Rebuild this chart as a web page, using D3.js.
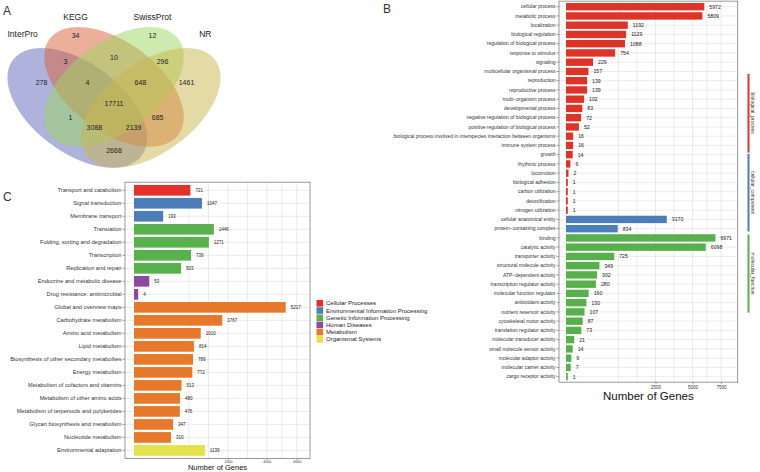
<!DOCTYPE html>
<html>
<head>
<meta charset="utf-8">
<script src="https://cdn.jsdelivr.net/npm/d3@7"></script>
<style>
  body { margin: 0; background: #fff; }
  svg { display: block; }
  text { font-family: "Liberation Sans", Arial, sans-serif; }
</style>
</head>
<body>
<svg width="760" height="472"></svg>
<script>
// ---- panel A : venn ----
var vennSets = ["InterPro", "KEGG", "SwissProt", "NR"];
var vennColors = ["#5f65b9", "#d9603a", "#9bd75f", "#c9b54b"];
var vennCounts = [278, 34, 12, 1461, 3, 10, 296, 4, 648, 17711, 1, 685, 3088, 2139, 2668];

// ---- panel B : GO ----
var goTerms = ["cellular process", "metabolic process", "localization", "biological regulation",
  "regulation of biological process", "response to stimulus", "signaling",
  "multicellular organismal process", "reproduction", "reproductive process",
  "multi\u2212organism process", "developmental process", "negative regulation of biological process",
  "positive regulation of biological process",
  "biological process involved in interspecies interaction between organisms",
  "immune system process", "growth", "rhythmic process", "locomotion", "biological adhesion",
  "carbon utilization", "detoxification", "nitrogen utilization",
  "cellular anatomical entity", "protein\u2212containing complex",
  "binding", "catalytic activity", "transporter activity", "structural molecule activity",
  "ATP\u2212dependent activity", "transcription regulator activity", "molecular function regulator",
  "antioxidant activity", "nutrient reservoir activity", "cytoskeletal motor activity",
  "translation regulator activity", "molecular transducer activity",
  "small molecule sensor activity", "molecular adaptor activity", "molecular carrier activity",
  "cargo receptor activity"];
var goCounts = [5972, 5809, 1192, 1129, 1088, 754, 229, 157, 139, 139, 102, 83, 72, 52, 16, 16, 14,
  6, 2, 1, 1, 1, 1, 3170, 834, 6971, 6098, 725, 349, 302, 280, 160, 130, 107, 87, 73, 21, 14, 9, 7, 1];
var goGroups = ["biological_process", "cellular_component", "molecular_function"];
var goGroupSize = [23, 2, 16];
var goColors = ["#dd3328", "#4a7dba", "#58b04c"];
var goTicks = [2500, 5000, 7500];

// ---- panel C : KEGG ----
var keggPaths = ["Transport and catabolism", "Signal transduction", "Membrane transport",
  "Translation", "Folding, sorting and degradation", "Transcription", "Replication and repair",
  "Endocrine and metabolic disease", "Drug resistance: antimicrobial",
  "Global and overview maps", "Carbohydrate metabolism", "Amino acid metabolism", "Lipid metabolism",
  "Biosynthesis of other secondary metabolites", "Energy metabolism",
  "Metabolism of cofactors and vitamins", "Metabolism of other amino acids",
  "Metabolism of terpenoids and polyketides", "Glycan biosynthesis and metabolism",
  "Nucleotide metabolism", "Environmental adaptation"];
var keggCounts = [721, 1047, 193, 1446, 1271, 739, 503, 53, 4, 5217, 1767, 1010, 814, 789, 772,
  513, 480, 476, 347, 310, 1139];
var keggClass = [0, 1, 1, 2, 2, 2, 2, 3, 3, 4, 4, 4, 4, 4, 4, 4, 4, 4, 4, 4, 5];
var keggClasses = ["Cellular Processes", "Environmental Information Processing",
  "Genetic Information Processing", "Human Diseases", "Metabolism", "Organismal Systems"];
var keggColors = ["#e3302b", "#4b7db8", "#58b14d", "#8d48a0", "#e6792b", "#e3e24a"];
var keggTicks = [2000, 4000, 6000];

var svg = d3.select("svg");

// panel letters
svg.append("text").attr("x", 3).attr("y", 15).attr("font-size", 12).attr("fill", "#333").text("A");
svg.append("text").attr("x", 383).attr("y", 13).attr("font-size", 12).attr("fill", "#333").text("B");
svg.append("text").attr("x", 3).attr("y", 201).attr("font-size", 12).attr("fill", "#333").text("C");

// ================= A =================
var vx = d3.scaleLinear().domain([0, 1]).range([-8.5, 236.5]);
var vy = d3.scaleLinear().domain([0, 1]).range([206.6, -3.4]);
var ellipses = [
  {cx: 0.35, cy: 0.47, rot: 45},
  {cx: 0.5, cy: 0.57, rot: 45},
  {cx: 0.5, cy: 0.57, rot: -45},
  {cx: 0.65, cy: 0.47, rot: -45}
];
var venn = svg.append("g");
venn.selectAll("ellipse").data(ellipses).enter().append("ellipse")
  .attr("rx", 0.35).attr("ry", 0.2)
  .attr("transform", function (d) {
    return "translate(" + vx(d.cx) + "," + vy(d.cy) + ") scale(245,210) rotate(" + d.rot + ")";
  })
  .attr("fill", function (d, i) { return vennColors[i]; })
  .attr("fill-opacity", 0.5);

// region label spots (unit square, VennDiagram style)
var vennSpots = [[0.204, 0.593], [0.343, 0.817], [0.657, 0.817], [0.796, 0.593],
  [0.302, 0.693], [0.5, 0.712], [0.698, 0.693], [0.392, 0.593], [0.608, 0.593],
  [0.5, 0.493], [0.322, 0.426], [0.678, 0.426], [0.42, 0.379], [0.58, 0.379], [0.5, 0.269]];
venn.selectAll("text.cnt").data(vennCounts).enter().append("text")
  .attr("class", "cnt")
  .attr("x", function (d, i) { return vx(vennSpots[i][0]); })
  .attr("y", function (d, i) { return vy(vennSpots[i][1]); })
  .attr("text-anchor", "middle").attr("dominant-baseline", "central")
  .attr("font-family", "DejaVu Sans").attr("font-size", 7).attr("fill", "#222")
  .text(function (d) { return d; });
var setSpots = [[0.127, 0.822], [0.343, 0.903], [0.657, 0.903], [0.873, 0.822]];
venn.selectAll("text.set").data(vennSets).enter().append("text")
  .attr("class", "set")
  .attr("x", function (d, i) { return vx(setSpots[i][0]); })
  .attr("y", function (d, i) { return vy(setSpots[i][1]); })
  .attr("text-anchor", "middle").attr("dominant-baseline", "central")
  .attr("font-family", "DejaVu Sans").attr("font-size", 8.5).attr("fill", "#222")
  .text(function (d) { return d; });

// ggplot style grid breaks for sqrt axis
function sqrtGrid(majors, scale, lo, hi) {
  var b = majors.map(Math.sqrt), bd = b[1] - b[0];
  if (scale.invert(lo) < majors[0]) b.unshift(b[0] - bd);
  if (scale.invert(hi) > majors[majors.length - 1]) b.push(b[b.length - 1] + bd);
  var out = [];
  for (var i = 0; i < b.length - 1; i++) { out.push(b[i]); out.push((b[i] + b[i + 1]) / 2); }
  out.push(b[b.length - 1]);
  return out.filter(function (t) { return t > 0; }).map(function (t) { return t * t; })
    .filter(function (v) { return scale(v) > lo && scale(v) < hi; });
}

function barPanel(opt) {
  var g = svg.append("g");
  var x = opt.x, y = opt.y;
  var left = opt.left, right = opt.right, top = y.range()[0], bottom = y.range()[1];
  // grid
  g.selectAll("line.vg").data(sqrtGrid(opt.ticks, x, left, right)).enter().append("line")
    .attr("x1", function (d) { return x(d); }).attr("x2", function (d) { return x(d); })
    .attr("y1", top).attr("y2", bottom).attr("stroke", "#dedede").attr("stroke-width", 0.6);
  g.selectAll("line.hg").data(y.domain()).enter().append("line")
    .attr("x1", left).attr("x2", right)
    .attr("y1", function (d) { return y(d) + y.bandwidth() / 2; })
    .attr("y2", function (d) { return y(d) + y.bandwidth() / 2; })
    .attr("stroke", "#dedede").attr("stroke-width", 0.6);
  // bars
  g.selectAll("rect.bar").data(opt.values).enter().append("rect")
    .attr("x", x(0))
    .attr("y", function (d, i) { return y(y.domain()[i]); })
    .attr("width", function (d) { return x(d) - x(0); })
    .attr("height", y.bandwidth())
    .attr("fill", function (d, i) { return opt.color(i); });
  g.selectAll("text.val").data(opt.values).enter().append("text")
    .attr("x", function (d) { return x(d) + opt.valGap; })
    .attr("y", function (d, i) { return y(y.domain()[i]) + y.bandwidth() / 2; })
    .attr("dominant-baseline", "central")
    .attr("font-size", opt.valSize).attr("fill", "#222")
    .text(function (d) { return d; });
  // border
  g.append("rect").attr("x", left).attr("y", top).attr("width", right - left).attr("height", bottom - top)
    .attr("fill", "none").attr("stroke", "#7f7f7f").attr("stroke-width", 0.8);
  // y axis
  var ya = g.append("g").attr("transform", "translate(" + left + ",0)")
    .call(d3.axisLeft(y).tickSize(2.5).tickPadding(1));
  ya.select(".domain").remove();
  ya.selectAll("line").attr("stroke", "#4d4d4d").attr("stroke-width", 0.5);
  ya.selectAll("text").attr("font-size", opt.labSize).attr("fill", "#333")
    .attr("font-family", "Liberation Sans, Arial, sans-serif");
  // x axis
  var xa = g.append("g").attr("transform", "translate(0," + bottom + ")")
    .call(d3.axisBottom(x).tickValues(opt.ticks).tickFormat(d3.format("d"))
      .tickSize(opt.tickLen).tickPadding(opt.tickPad));
  xa.select(".domain").remove();
  xa.selectAll("line").attr("stroke", "#4d4d4d").attr("stroke-width", 0.5);
  xa.selectAll("text").attr("font-size", opt.tickSize).attr("fill", "#333")
    .attr("font-family", "Liberation Sans, Arial, sans-serif");
  g.append("text").attr("x", (left + right) / 2).attr("y", opt.titleY)
    .attr("text-anchor", "middle").attr("font-size", opt.titleSize).attr("fill", "#111")
    .text("Number of Genes");
  return g;
}

// ================= B =================
var goIndex = [];
goGroupSize.forEach(function (n, k) { for (var i = 0; i < n; i++) goIndex.push(k); });
var bx = d3.scaleSqrt().domain([0, 7500]).range([566, 721]);
var byScale = d3.scaleBand().domain(goTerms).range([1.15, 382.2]).paddingInner(0.2).paddingOuter(0.2);
barPanel({
  x: bx, y: byScale, left: 559, right: 737.7, values: goCounts, ticks: goTicks,
  color: function (i) { return goColors[goIndex[i]]; },
  valGap: 5, valSize: 5.2, labSize: 5, tickSize: 4.5, tickLen: 2, tickPad: 1.5,
  titleSize: 11.5, titleY: 400
});
// side annotation strips
var stripSpan = [[0.189, 0.399], [0.399, 0.606], [0.611, 0.819]];
var sy = d3.scaleLinear().domain([0, 1]).range([1.15, 382.2]);
var strips = svg.append("g");
strips.selectAll("rect").data(goGroups).enter().append("rect")
  .attr("x", 747.5).attr("width", 2)
  .attr("y", function (d, i) { return sy(stripSpan[i][0]) + 0.6; })
  .attr("height", function (d, i) { return sy(stripSpan[i][1]) - sy(stripSpan[i][0]) - 1.2; })
  .attr("fill", function (d, i) { return goColors[i]; });
strips.selectAll("text").data(goGroups).enter().append("text")
  .attr("transform", function (d, i) {
    return "translate(753," + sy((stripSpan[i][0] + stripSpan[i][1]) / 2) + ") rotate(90)";
  })
  .attr("text-anchor", "middle").attr("dominant-baseline", "central")
  .attr("font-size", 5).attr("fill", "#333")
  .text(function (d) { return d; });

// ================= C =================
var cx = d3.scaleSqrt().domain([0, 6000]).range([134, 134 + 2.1 * Math.sqrt(6000)]);
var cy = d3.scaleBand().domain(keggPaths).range([182.2, 458.5]).paddingInner(0.18).paddingOuter(0.21);
barPanel({
  x: cx, y: cy, left: 125, right: 310, values: keggCounts, ticks: keggTicks,
  color: function (i) { return keggColors[keggClass[i]]; },
  valGap: 5, valSize: 4.5, labSize: 5.7, tickSize: 3.6, tickLen: 1.5, tickPad: 0.5,
  titleSize: 7.5, titleY: 470.2
});
var legend = svg.append("g").attr("transform", "translate(316.5,300)");
var lg = legend.selectAll("g").data(keggClasses).enter().append("g")
  .attr("transform", function (d, i) { return "translate(0," + i * 7.2 + ")"; });
lg.append("rect").attr("width", 6.6).attr("height", 6.6)
  .attr("fill", function (d, i) { return keggColors[i]; });
lg.append("text").attr("x", 9.5).attr("y", 3.4).attr("dominant-baseline", "central")
  .attr("font-size", 6).attr("fill", "#222").text(function (d) { return d; });
</script>
</body>
</html>
